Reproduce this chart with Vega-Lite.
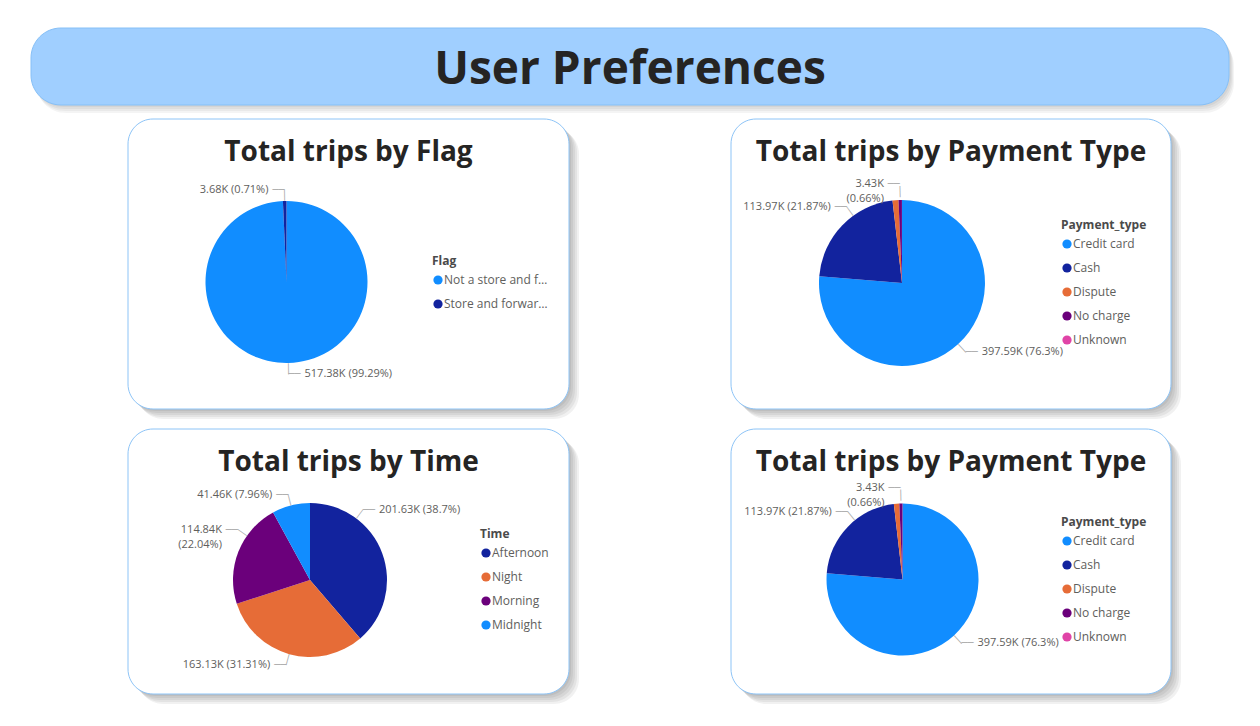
{
  "$schema": "https://vega.github.io/schema/vega-lite/v6.json",
  "background": "#ffffff",
  "padding": {"left": 30, "top": 27, "right": 0, "bottom": 0},
  "config": {
    "view": {"stroke": null},
    "font": "Open Sans",
    "legend": {
      "orient": "none",
      "symbolType": "circle",
      "symbolSize": 85,
      "labelFont": "Open Sans",
      "labelFontSize": 12,
      "labelColor": "#605E5C",
      "titleFont": "Open Sans",
      "titleFontSize": 12,
      "titleFontWeight": "bold",
      "titleColor": "#4A4A4A",
      "titlePadding": 6,
      "rowPadding": 12,
      "labelOffset": 0,
      "labelLimit": 106
    },
    "title": {"font": "Open Sans", "fontSize": 28, "fontWeight": "bold", "color": "#252423", "anchor": "middle", "offset": -48}
  },
  "datasets": {
    "flag": [
      {"Flag": "Not a store and forward trip", "Trips": 517.38, "label": "517.38K (99.29%)"},
      {"Flag": "Store and forward trip", "Trips": 3.68, "label": "3.68K (0.71%)"}
    ],
    "payment": [
      {"Payment_type": "Credit card", "Trips": 397.59, "label": "397.59K (76.3%)"},
      {"Payment_type": "Cash", "Trips": 113.97, "label": "113.97K (21.87%)"},
      {"Payment_type": "Dispute", "Trips": 6.03, "label": ""},
      {"Payment_type": "No charge", "Trips": 3.43, "label": "3.43K\n(0.66%)"},
      {"Payment_type": "Unknown", "Trips": 0.04, "label": ""}
    ],
    "time": [
      {"Time": "Afternoon", "Trips": 201.63, "label": "201.63K (38.7%)"},
      {"Time": "Night", "Trips": 163.13, "label": "163.13K (31.31%)"},
      {"Time": "Morning", "Trips": 114.84, "label": "114.84K\n(22.04%)"},
      {"Time": "Midnight", "Trips": 41.46, "label": "41.46K (7.96%)"}
    ],
    "header": [{"text": "User Preferences"}],
    "blank": [{"text": ""}]
  },
  "bounds": "flush",
  "spacing": 14,
  "resolve": {"scale": {"color": "independent", "theta": "independent", "x": "independent", "y": "independent"}, "legend": {"color": "independent"}},
  "vconcat": [
    {
      "width": 1198,
      "height": 77,
      "data": {"name": "header"},
      "layer": [
        {"mark": {"type": "rect", "fill": "#000000", "opacity": 0.045, "cornerRadius": 30, "xOffset": 2, "x2Offset": 2, "yOffset": 2, "y2Offset": 2},
         "encoding": {"x": {"datum": 0, "type": "quantitative", "scale": {"domain": [0, 1]}, "axis": null}, "x2": {"datum": 1}, "y": {"datum": 0, "type": "quantitative", "scale": {"domain": [0, 1], "reverse": true}, "axis": null}, "y2": {"datum": 1}}},
        {"mark": {"type": "rect", "fill": "#000000", "opacity": 0.045, "cornerRadius": 30, "xOffset": 3, "x2Offset": 3, "yOffset": 4, "y2Offset": 4},
         "encoding": {"x": {"datum": 0, "type": "quantitative", "scale": {"domain": [0, 1]}, "axis": null}, "x2": {"datum": 1}, "y": {"datum": 0, "type": "quantitative", "scale": {"domain": [0, 1], "reverse": true}, "axis": null}, "y2": {"datum": 1}}},
        {"mark": {"type": "rect", "fill": "#000000", "opacity": 0.045, "cornerRadius": 30, "xOffset": 4, "x2Offset": 4, "yOffset": 6, "y2Offset": 6},
         "encoding": {"x": {"datum": 0, "type": "quantitative", "scale": {"domain": [0, 1]}, "axis": null}, "x2": {"datum": 1}, "y": {"datum": 0, "type": "quantitative", "scale": {"domain": [0, 1], "reverse": true}, "axis": null}, "y2": {"datum": 1}}},
        {"mark": {"type": "rect", "fill": "#000000", "opacity": 0.045, "cornerRadius": 30, "xOffset": 5, "x2Offset": 5, "yOffset": 8, "y2Offset": 8},
         "encoding": {"x": {"datum": 0, "type": "quantitative", "scale": {"domain": [0, 1]}, "axis": null}, "x2": {"datum": 1}, "y": {"datum": 0, "type": "quantitative", "scale": {"domain": [0, 1], "reverse": true}, "axis": null}, "y2": {"datum": 1}}},
        {"mark": {"type": "rect", "fill": "#A0CFFF", "stroke": "#86C0F7", "strokeWidth": 1, "cornerRadius": 30},
         "encoding": {"x": {"datum": 0, "type": "quantitative", "scale": {"domain": [0, 1]}, "axis": null}, "x2": {"datum": 1}, "y": {"datum": 0, "type": "quantitative", "scale": {"domain": [0, 1], "reverse": true}, "axis": null}, "y2": {"datum": 1}}},
        {"mark": {"type": "text", "font": "Open Sans", "fontSize": 46, "fontWeight": "bold", "color": "#252423", "baseline": "middle", "dy": 3},
         "encoding": {"text": {"field": "text", "type": "nominal"}}}
      ]
    },
    {
      "spacing": 0,
      "bounds": "flush",
      "resolve": {"scale": {"color": "independent", "theta": "independent", "x": "independent", "y": "independent"}, "legend": {"color": "independent"}},
      "hconcat": [
        {
          "width": 97,
          "height": 2,
          "data": {"name": "blank"},
          "mark": {"type": "text"},
          "encoding": {"text": {"field": "text", "type": "nominal"}}
        },
        {
          "columns": 2,
          "spacing": {"row": 20, "column": 162},
          "bounds": "flush",
          "resolve": {"scale": {"color": "independent", "theta": "independent", "x": "independent", "y": "independent"}, "legend": {"color": "independent"}},
          "concat": [
                {
                  "width": 441,
                  "height": 290,
                  "title": {"text": "Total trips by Flag"},
                  "data": {"name": "flag"},
                  "layer": [
                    {"data": {"name": "blank"}, "mark": {"type": "rect", "fill": "#000000", "opacity": 0.055, "cornerRadius": 25, "xOffset": 2, "x2Offset": 2, "yOffset": 2, "y2Offset": 2},
                     "encoding": {"x": {"datum": 0, "type": "quantitative", "scale": {"domain": [0, 1]}, "axis": null}, "x2": {"datum": 1}, "y": {"datum": 0, "type": "quantitative", "scale": {"domain": [0, 1], "reverse": true}, "axis": null}, "y2": {"datum": 1}}},
                    {"data": {"name": "blank"}, "mark": {"type": "rect", "fill": "#000000", "opacity": 0.055, "cornerRadius": 25, "xOffset": 4, "x2Offset": 4, "yOffset": 4, "y2Offset": 4},
                     "encoding": {"x": {"datum": 0, "type": "quantitative", "scale": {"domain": [0, 1]}, "axis": null}, "x2": {"datum": 1}, "y": {"datum": 0, "type": "quantitative", "scale": {"domain": [0, 1], "reverse": true}, "axis": null}, "y2": {"datum": 1}}},
                    {"data": {"name": "blank"}, "mark": {"type": "rect", "fill": "#000000", "opacity": 0.055, "cornerRadius": 25, "xOffset": 6, "x2Offset": 6, "yOffset": 6, "y2Offset": 6},
                     "encoding": {"x": {"datum": 0, "type": "quantitative", "scale": {"domain": [0, 1]}, "axis": null}, "x2": {"datum": 1}, "y": {"datum": 0, "type": "quantitative", "scale": {"domain": [0, 1], "reverse": true}, "axis": null}, "y2": {"datum": 1}}},
                    {"data": {"name": "blank"}, "mark": {"type": "rect", "fill": "#000000", "opacity": 0.055, "cornerRadius": 25, "xOffset": 8, "x2Offset": 8, "yOffset": 8, "y2Offset": 8},
                     "encoding": {"x": {"datum": 0, "type": "quantitative", "scale": {"domain": [0, 1]}, "axis": null}, "x2": {"datum": 1}, "y": {"datum": 0, "type": "quantitative", "scale": {"domain": [0, 1], "reverse": true}, "axis": null}, "y2": {"datum": 1}}},
                    {"data": {"name": "blank"}, "mark": {"type": "rect", "fill": "#000000", "opacity": 0.055, "cornerRadius": 25, "xOffset": 10, "x2Offset": 10, "yOffset": 10, "y2Offset": 10},
                     "encoding": {"x": {"datum": 0, "type": "quantitative", "scale": {"domain": [0, 1]}, "axis": null}, "x2": {"datum": 1}, "y": {"datum": 0, "type": "quantitative", "scale": {"domain": [0, 1], "reverse": true}, "axis": null}, "y2": {"datum": 1}}},
                    {"data": {"name": "blank"}, "mark": {"type": "rect", "fill": "#ffffff", "stroke": "#8DC4F7", "strokeWidth": 1, "cornerRadius": 25},
                     "encoding": {"x": {"datum": 0, "type": "quantitative", "scale": {"domain": [0, 1]}, "axis": null}, "x2": {"datum": 1}, "y": {"datum": 0, "type": "quantitative", "scale": {"domain": [0, 1], "reverse": true}, "axis": null}, "y2": {"datum": 1}}},
                    {
                      "mark": {"type": "arc", "radius": 81},
                      "encoding": {
                        "x": {"datum": 0.3594, "type": "quantitative", "scale": {"domain": [0, 1]}, "axis": null},
                        "y": {"datum": 0.5621, "type": "quantitative", "scale": {"domain": [0, 1], "reverse": true}, "axis": null},
                        "theta": {"field": "Trips", "type": "quantitative", "stack": true},
                        "order": {"field": "Trips", "type": "quantitative", "sort": "descending"},
                        "color": {"field": "Flag", "type": "nominal",
                          "scale": {"domain": ["Not a store and forward trip", "Store and forward trip"], "range": ["#118DFF", "#12239E"]},
                          "legend": {"title": "Flag", "legendX": 304, "legendY": 137}}
                      }
                    },
                    {
                      "mark": {"type": "text", "radius": 86.5, "text": "│", "font": "DejaVu Sans", "fontSize": 9.5, "color": "#A8A8A8", "baseline": "middle", "align": "center",
                        "angle": {"expr": "(datum.Trips_start + datum.Trips_end) * 180 / 521.06"}},
                      "encoding": {
                        "x": {"datum": 0.3594, "type": "quantitative", "scale": {"domain": [0, 1]}, "axis": null},
                        "y": {"datum": 0.5621, "type": "quantitative", "scale": {"domain": [0, 1], "reverse": true}, "axis": null},
                        "theta": {"field": "Trips", "type": "quantitative", "stack": true},
                        "order": {"field": "Trips", "type": "quantitative", "sort": "descending"},
                        "detail": {"field": "Flag", "type": "nominal"},
                        "opacity": {"condition": {"test": "datum.label == ''", "value": 0}, "value": 1}
                      }
                    },
                    {
                      "mark": {"type": "text", "radius": 92, "text": "──", "font": "DejaVu Sans", "fontSize": 10, "color": "#A8A8A8", "baseline": "middle",
                        "align": {"expr": "datum.Trips_start + datum.Trips_end > 521.06 ? 'right' : 'left'"}},
                      "encoding": {
                        "x": {"datum": 0.3594, "type": "quantitative", "scale": {"domain": [0, 1]}, "axis": null},
                        "y": {"datum": 0.5621, "type": "quantitative", "scale": {"domain": [0, 1], "reverse": true}, "axis": null},
                        "theta": {"field": "Trips", "type": "quantitative", "stack": true},
                        "order": {"field": "Trips", "type": "quantitative", "sort": "descending"},
                        "detail": {"field": "Flag", "type": "nominal"},
                        "opacity": {"condition": {"test": "datum.label == ''", "value": 0}, "value": 1}
                      }
                    },
                    {
                      "mark": {"type": "text", "radius": 92, "fontSize": 11, "lineHeight": 15, "color": "#605E5C", "baseline": "middle", "lineBreak": "\n",
                        "align": {"expr": "datum.Trips_start + datum.Trips_end > 521.06 ? 'right' : 'left'"},
                        "dx": {"expr": "datum.Trips_start + datum.Trips_end > 521.06 ? -16 : 16"}},
                      "encoding": {
                        "x": {"datum": 0.3594, "type": "quantitative", "scale": {"domain": [0, 1]}, "axis": null},
                        "y": {"datum": 0.5621, "type": "quantitative", "scale": {"domain": [0, 1], "reverse": true}, "axis": null},
                        "theta": {"field": "Trips", "type": "quantitative", "stack": true},
                        "order": {"field": "Trips", "type": "quantitative", "sort": "descending"},
                        "detail": {"field": "Flag", "type": "nominal"},
                        "text": {"field": "label", "type": "nominal"}
                      }
                    }
                  ]
                },
                {
                  "width": 440,
                  "height": 290,
                  "title": {"text": "Total trips by Payment Type"},
                  "data": {"name": "payment"},
                  "layer": [
                    {"data": {"name": "blank"}, "mark": {"type": "rect", "fill": "#000000", "opacity": 0.055, "cornerRadius": 25, "xOffset": 2, "x2Offset": 2, "yOffset": 2, "y2Offset": 2},
                     "encoding": {"x": {"datum": 0, "type": "quantitative", "scale": {"domain": [0, 1]}, "axis": null}, "x2": {"datum": 1}, "y": {"datum": 0, "type": "quantitative", "scale": {"domain": [0, 1], "reverse": true}, "axis": null}, "y2": {"datum": 1}}},
                    {"data": {"name": "blank"}, "mark": {"type": "rect", "fill": "#000000", "opacity": 0.055, "cornerRadius": 25, "xOffset": 4, "x2Offset": 4, "yOffset": 4, "y2Offset": 4},
                     "encoding": {"x": {"datum": 0, "type": "quantitative", "scale": {"domain": [0, 1]}, "axis": null}, "x2": {"datum": 1}, "y": {"datum": 0, "type": "quantitative", "scale": {"domain": [0, 1], "reverse": true}, "axis": null}, "y2": {"datum": 1}}},
                    {"data": {"name": "blank"}, "mark": {"type": "rect", "fill": "#000000", "opacity": 0.055, "cornerRadius": 25, "xOffset": 6, "x2Offset": 6, "yOffset": 6, "y2Offset": 6},
                     "encoding": {"x": {"datum": 0, "type": "quantitative", "scale": {"domain": [0, 1]}, "axis": null}, "x2": {"datum": 1}, "y": {"datum": 0, "type": "quantitative", "scale": {"domain": [0, 1], "reverse": true}, "axis": null}, "y2": {"datum": 1}}},
                    {"data": {"name": "blank"}, "mark": {"type": "rect", "fill": "#000000", "opacity": 0.055, "cornerRadius": 25, "xOffset": 8, "x2Offset": 8, "yOffset": 8, "y2Offset": 8},
                     "encoding": {"x": {"datum": 0, "type": "quantitative", "scale": {"domain": [0, 1]}, "axis": null}, "x2": {"datum": 1}, "y": {"datum": 0, "type": "quantitative", "scale": {"domain": [0, 1], "reverse": true}, "axis": null}, "y2": {"datum": 1}}},
                    {"data": {"name": "blank"}, "mark": {"type": "rect", "fill": "#000000", "opacity": 0.055, "cornerRadius": 25, "xOffset": 10, "x2Offset": 10, "yOffset": 10, "y2Offset": 10},
                     "encoding": {"x": {"datum": 0, "type": "quantitative", "scale": {"domain": [0, 1]}, "axis": null}, "x2": {"datum": 1}, "y": {"datum": 0, "type": "quantitative", "scale": {"domain": [0, 1], "reverse": true}, "axis": null}, "y2": {"datum": 1}}},
                    {"data": {"name": "blank"}, "mark": {"type": "rect", "fill": "#ffffff", "stroke": "#8DC4F7", "strokeWidth": 1, "cornerRadius": 25},
                     "encoding": {"x": {"datum": 0, "type": "quantitative", "scale": {"domain": [0, 1]}, "axis": null}, "x2": {"datum": 1}, "y": {"datum": 0, "type": "quantitative", "scale": {"domain": [0, 1], "reverse": true}, "axis": null}, "y2": {"datum": 1}}},
                    {
                      "mark": {"type": "arc", "radius": 83},
                      "encoding": {
                        "x": {"datum": 0.3886, "type": "quantitative", "scale": {"domain": [0, 1]}, "axis": null},
                        "y": {"datum": 0.5655, "type": "quantitative", "scale": {"domain": [0, 1], "reverse": true}, "axis": null},
                        "theta": {"field": "Trips", "type": "quantitative", "stack": true},
                        "order": {"field": "Trips", "type": "quantitative", "sort": "descending"},
                        "color": {"field": "Payment_type", "type": "nominal",
                          "scale": {"domain": ["Credit card", "Cash", "Dispute", "No charge", "Unknown"], "range": ["#118DFF", "#12239E", "#E66C37", "#6B007B", "#E044A7"]},
                          "legend": {"title": "Payment_type", "legendX": 330, "legendY": 101}}
                      }
                    },
                    {
                      "mark": {"type": "text", "radius": 88.5, "text": "│", "font": "DejaVu Sans", "fontSize": 9.5, "color": "#A8A8A8", "baseline": "middle", "align": "center",
                        "thetaOffset": {"expr": "datum.Payment_type == 'Cash' ? 0.175 : 0"},
                        "radiusOffset": {"expr": "datum.Payment_type == 'No charge' ? 2.5 : 0"},
                        "angle": {"expr": "(datum.Trips_start + datum.Trips_end) * 180 / 521.06 + (datum.Payment_type == 'Cash' ? 10 : 0)"}},
                      "encoding": {
                        "x": {"datum": 0.3886, "type": "quantitative", "scale": {"domain": [0, 1]}, "axis": null},
                        "y": {"datum": 0.5655, "type": "quantitative", "scale": {"domain": [0, 1], "reverse": true}, "axis": null},
                        "theta": {"field": "Trips", "type": "quantitative", "stack": true},
                        "order": {"field": "Trips", "type": "quantitative", "sort": "descending"},
                        "detail": {"field": "Payment_type", "type": "nominal"},
                        "opacity": {"condition": {"test": "datum.label == ''", "value": 0}, "value": 1}
                      }
                    },
                    {
                      "mark": {"type": "text", "radius": 94, "text": "──", "font": "DejaVu Sans", "fontSize": 10, "color": "#A8A8A8", "baseline": "middle",
                        "thetaOffset": {"expr": "datum.Payment_type == 'Cash' ? 0.175 : 0"},
                        "radiusOffset": {"expr": "datum.Payment_type == 'No charge' ? 5 : 0"},
                        "align": {"expr": "datum.Trips_start + datum.Trips_end > 521.06 ? 'right' : 'left'"}},
                      "encoding": {
                        "x": {"datum": 0.3886, "type": "quantitative", "scale": {"domain": [0, 1]}, "axis": null},
                        "y": {"datum": 0.5655, "type": "quantitative", "scale": {"domain": [0, 1], "reverse": true}, "axis": null},
                        "theta": {"field": "Trips", "type": "quantitative", "stack": true},
                        "order": {"field": "Trips", "type": "quantitative", "sort": "descending"},
                        "detail": {"field": "Payment_type", "type": "nominal"},
                        "opacity": {"condition": {"test": "datum.label == ''", "value": 0}, "value": 1}
                      }
                    },
                    {
                      "mark": {"type": "text", "radius": 94, "fontSize": 11, "lineHeight": 15, "color": "#605E5C", "baseline": "middle", "lineBreak": "\n",
                        "thetaOffset": {"expr": "datum.Payment_type == 'Cash' ? 0.175 : 0"},
                        "radiusOffset": {"expr": "datum.Payment_type == 'No charge' ? 5 : 0"},
                        "align": {"expr": "datum.Trips_start + datum.Trips_end > 521.06 ? 'right' : 'left'"},
                        "dx": {"expr": "datum.Trips_start + datum.Trips_end > 521.06 ? -16 : 16"}},
                      "encoding": {
                        "x": {"datum": 0.3886, "type": "quantitative", "scale": {"domain": [0, 1]}, "axis": null},
                        "y": {"datum": 0.5655, "type": "quantitative", "scale": {"domain": [0, 1], "reverse": true}, "axis": null},
                        "theta": {"field": "Trips", "type": "quantitative", "stack": true},
                        "order": {"field": "Trips", "type": "quantitative", "sort": "descending"},
                        "detail": {"field": "Payment_type", "type": "nominal"},
                        "text": {"field": "label", "type": "nominal"}
                      }
                    }
                  ]
                },
                {
                  "width": 441,
                  "height": 265,
                  "title": {"text": "Total trips by Time"},
                  "data": {"name": "time"},
                  "layer": [
                    {"data": {"name": "blank"}, "mark": {"type": "rect", "fill": "#000000", "opacity": 0.055, "cornerRadius": 25, "xOffset": 2, "x2Offset": 2, "yOffset": 2, "y2Offset": 2},
                     "encoding": {"x": {"datum": 0, "type": "quantitative", "scale": {"domain": [0, 1]}, "axis": null}, "x2": {"datum": 1}, "y": {"datum": 0, "type": "quantitative", "scale": {"domain": [0, 1], "reverse": true}, "axis": null}, "y2": {"datum": 1}}},
                    {"data": {"name": "blank"}, "mark": {"type": "rect", "fill": "#000000", "opacity": 0.055, "cornerRadius": 25, "xOffset": 4, "x2Offset": 4, "yOffset": 4, "y2Offset": 4},
                     "encoding": {"x": {"datum": 0, "type": "quantitative", "scale": {"domain": [0, 1]}, "axis": null}, "x2": {"datum": 1}, "y": {"datum": 0, "type": "quantitative", "scale": {"domain": [0, 1], "reverse": true}, "axis": null}, "y2": {"datum": 1}}},
                    {"data": {"name": "blank"}, "mark": {"type": "rect", "fill": "#000000", "opacity": 0.055, "cornerRadius": 25, "xOffset": 6, "x2Offset": 6, "yOffset": 6, "y2Offset": 6},
                     "encoding": {"x": {"datum": 0, "type": "quantitative", "scale": {"domain": [0, 1]}, "axis": null}, "x2": {"datum": 1}, "y": {"datum": 0, "type": "quantitative", "scale": {"domain": [0, 1], "reverse": true}, "axis": null}, "y2": {"datum": 1}}},
                    {"data": {"name": "blank"}, "mark": {"type": "rect", "fill": "#000000", "opacity": 0.055, "cornerRadius": 25, "xOffset": 8, "x2Offset": 8, "yOffset": 8, "y2Offset": 8},
                     "encoding": {"x": {"datum": 0, "type": "quantitative", "scale": {"domain": [0, 1]}, "axis": null}, "x2": {"datum": 1}, "y": {"datum": 0, "type": "quantitative", "scale": {"domain": [0, 1], "reverse": true}, "axis": null}, "y2": {"datum": 1}}},
                    {"data": {"name": "blank"}, "mark": {"type": "rect", "fill": "#000000", "opacity": 0.055, "cornerRadius": 25, "xOffset": 10, "x2Offset": 10, "yOffset": 10, "y2Offset": 10},
                     "encoding": {"x": {"datum": 0, "type": "quantitative", "scale": {"domain": [0, 1]}, "axis": null}, "x2": {"datum": 1}, "y": {"datum": 0, "type": "quantitative", "scale": {"domain": [0, 1], "reverse": true}, "axis": null}, "y2": {"datum": 1}}},
                    {"data": {"name": "blank"}, "mark": {"type": "rect", "fill": "#ffffff", "stroke": "#8DC4F7", "strokeWidth": 1, "cornerRadius": 25},
                     "encoding": {"x": {"datum": 0, "type": "quantitative", "scale": {"domain": [0, 1]}, "axis": null}, "x2": {"datum": 1}, "y": {"datum": 0, "type": "quantitative", "scale": {"domain": [0, 1], "reverse": true}, "axis": null}, "y2": {"datum": 1}}},
                    {
                      "mark": {"type": "arc", "radius": 77},
                      "encoding": {
                        "x": {"datum": 0.4127, "type": "quantitative", "scale": {"domain": [0, 1]}, "axis": null},
                        "y": {"datum": 0.5698, "type": "quantitative", "scale": {"domain": [0, 1], "reverse": true}, "axis": null},
                        "theta": {"field": "Trips", "type": "quantitative", "stack": true},
                        "order": {"field": "Trips", "type": "quantitative", "sort": "descending"},
                        "color": {"field": "Time", "type": "nominal",
                          "scale": {"domain": ["Afternoon", "Night", "Morning", "Midnight"], "range": ["#12239E", "#E66C37", "#6B007B", "#118DFF"]},
                          "legend": {"title": "Time", "legendX": 352, "legendY": 100}}
                      }
                    },
                    {
                      "mark": {"type": "text", "radius": 82.5, "text": "│", "font": "DejaVu Sans", "fontSize": 9.5, "color": "#A8A8A8", "baseline": "middle", "align": "center",
                        "thetaOffset": {"expr": "datum.Time == 'Afternoon' ? -0.571 : datum.Time == 'Morning' ? 0.232 : 0"},
                        "angle": {"expr": "(datum.Trips_start + datum.Trips_end) * 180 / 521.06 + (datum.Time == 'Afternoon' ? -32.7 : datum.Time == 'Morning' ? 13.3 : 0)"}},
                      "encoding": {
                        "x": {"datum": 0.4127, "type": "quantitative", "scale": {"domain": [0, 1]}, "axis": null},
                        "y": {"datum": 0.5698, "type": "quantitative", "scale": {"domain": [0, 1], "reverse": true}, "axis": null},
                        "theta": {"field": "Trips", "type": "quantitative", "stack": true},
                        "order": {"field": "Trips", "type": "quantitative", "sort": "descending"},
                        "detail": {"field": "Time", "type": "nominal"},
                        "opacity": {"condition": {"test": "datum.label == ''", "value": 0}, "value": 1}
                      }
                    },
                    {
                      "mark": {"type": "text", "radius": 88, "text": "──", "font": "DejaVu Sans", "fontSize": 10, "color": "#A8A8A8", "baseline": "middle",
                        "thetaOffset": {"expr": "datum.Time == 'Afternoon' ? -0.571 : datum.Time == 'Morning' ? 0.232 : 0"},
                        "align": {"expr": "datum.Trips_start + datum.Trips_end > 521.06 ? 'right' : 'left'"}},
                      "encoding": {
                        "x": {"datum": 0.4127, "type": "quantitative", "scale": {"domain": [0, 1]}, "axis": null},
                        "y": {"datum": 0.5698, "type": "quantitative", "scale": {"domain": [0, 1], "reverse": true}, "axis": null},
                        "theta": {"field": "Trips", "type": "quantitative", "stack": true},
                        "order": {"field": "Trips", "type": "quantitative", "sort": "descending"},
                        "detail": {"field": "Time", "type": "nominal"},
                        "opacity": {"condition": {"test": "datum.label == ''", "value": 0}, "value": 1}
                      }
                    },
                    {
                      "mark": {"type": "text", "radius": 88, "fontSize": 11, "lineHeight": 15, "color": "#605E5C", "baseline": "middle", "lineBreak": "\n",
                        "thetaOffset": {"expr": "datum.Time == 'Afternoon' ? -0.571 : datum.Time == 'Morning' ? 0.232 : 0"},
                        "align": {"expr": "datum.Trips_start + datum.Trips_end > 521.06 ? 'right' : 'left'"},
                        "dx": {"expr": "datum.Trips_start + datum.Trips_end > 521.06 ? -16 : 16"}},
                      "encoding": {
                        "x": {"datum": 0.4127, "type": "quantitative", "scale": {"domain": [0, 1]}, "axis": null},
                        "y": {"datum": 0.5698, "type": "quantitative", "scale": {"domain": [0, 1], "reverse": true}, "axis": null},
                        "theta": {"field": "Trips", "type": "quantitative", "stack": true},
                        "order": {"field": "Trips", "type": "quantitative", "sort": "descending"},
                        "detail": {"field": "Time", "type": "nominal"},
                        "text": {"field": "label", "type": "nominal"}
                      }
                    }
                  ]
                },
                {
                  "width": 440,
                  "height": 265,
                  "title": {"text": "Total trips by Payment Type"},
                  "data": {"name": "payment"},
                  "layer": [
                    {"data": {"name": "blank"}, "mark": {"type": "rect", "fill": "#000000", "opacity": 0.055, "cornerRadius": 25, "xOffset": 2, "x2Offset": 2, "yOffset": 2, "y2Offset": 2},
                     "encoding": {"x": {"datum": 0, "type": "quantitative", "scale": {"domain": [0, 1]}, "axis": null}, "x2": {"datum": 1}, "y": {"datum": 0, "type": "quantitative", "scale": {"domain": [0, 1], "reverse": true}, "axis": null}, "y2": {"datum": 1}}},
                    {"data": {"name": "blank"}, "mark": {"type": "rect", "fill": "#000000", "opacity": 0.055, "cornerRadius": 25, "xOffset": 4, "x2Offset": 4, "yOffset": 4, "y2Offset": 4},
                     "encoding": {"x": {"datum": 0, "type": "quantitative", "scale": {"domain": [0, 1]}, "axis": null}, "x2": {"datum": 1}, "y": {"datum": 0, "type": "quantitative", "scale": {"domain": [0, 1], "reverse": true}, "axis": null}, "y2": {"datum": 1}}},
                    {"data": {"name": "blank"}, "mark": {"type": "rect", "fill": "#000000", "opacity": 0.055, "cornerRadius": 25, "xOffset": 6, "x2Offset": 6, "yOffset": 6, "y2Offset": 6},
                     "encoding": {"x": {"datum": 0, "type": "quantitative", "scale": {"domain": [0, 1]}, "axis": null}, "x2": {"datum": 1}, "y": {"datum": 0, "type": "quantitative", "scale": {"domain": [0, 1], "reverse": true}, "axis": null}, "y2": {"datum": 1}}},
                    {"data": {"name": "blank"}, "mark": {"type": "rect", "fill": "#000000", "opacity": 0.055, "cornerRadius": 25, "xOffset": 8, "x2Offset": 8, "yOffset": 8, "y2Offset": 8},
                     "encoding": {"x": {"datum": 0, "type": "quantitative", "scale": {"domain": [0, 1]}, "axis": null}, "x2": {"datum": 1}, "y": {"datum": 0, "type": "quantitative", "scale": {"domain": [0, 1], "reverse": true}, "axis": null}, "y2": {"datum": 1}}},
                    {"data": {"name": "blank"}, "mark": {"type": "rect", "fill": "#000000", "opacity": 0.055, "cornerRadius": 25, "xOffset": 10, "x2Offset": 10, "yOffset": 10, "y2Offset": 10},
                     "encoding": {"x": {"datum": 0, "type": "quantitative", "scale": {"domain": [0, 1]}, "axis": null}, "x2": {"datum": 1}, "y": {"datum": 0, "type": "quantitative", "scale": {"domain": [0, 1], "reverse": true}, "axis": null}, "y2": {"datum": 1}}},
                    {"data": {"name": "blank"}, "mark": {"type": "rect", "fill": "#ffffff", "stroke": "#8DC4F7", "strokeWidth": 1, "cornerRadius": 25},
                     "encoding": {"x": {"datum": 0, "type": "quantitative", "scale": {"domain": [0, 1]}, "axis": null}, "x2": {"datum": 1}, "y": {"datum": 0, "type": "quantitative", "scale": {"domain": [0, 1], "reverse": true}, "axis": null}, "y2": {"datum": 1}}},
                    {
                      "mark": {"type": "arc", "radius": 76},
                      "encoding": {
                        "x": {"datum": 0.3898, "type": "quantitative", "scale": {"domain": [0, 1]}, "axis": null},
                        "y": {"datum": 0.5679, "type": "quantitative", "scale": {"domain": [0, 1], "reverse": true}, "axis": null},
                        "theta": {"field": "Trips", "type": "quantitative", "stack": true},
                        "order": {"field": "Trips", "type": "quantitative", "sort": "descending"},
                        "color": {"field": "Payment_type", "type": "nominal",
                          "scale": {"domain": ["Credit card", "Cash", "Dispute", "No charge", "Unknown"], "range": ["#118DFF", "#12239E", "#E66C37", "#6B007B", "#E044A7"]},
                          "legend": {"title": "Payment_type", "legendX": 330, "legendY": 88}}
                      }
                    },
                    {
                      "mark": {"type": "text", "radius": 81.5, "text": "│", "font": "DejaVu Sans", "fontSize": 9.5, "color": "#A8A8A8", "baseline": "middle", "align": "center",
                        "thetaOffset": {"expr": "datum.Payment_type == 'Cash' ? 0.122 : 0"},
                        "radiusOffset": {"expr": "datum.Payment_type == 'No charge' ? 2.5 : 0"},
                        "angle": {"expr": "(datum.Trips_start + datum.Trips_end) * 180 / 521.06 + (datum.Payment_type == 'Cash' ? 7 : 0)"}},
                      "encoding": {
                        "x": {"datum": 0.3898, "type": "quantitative", "scale": {"domain": [0, 1]}, "axis": null},
                        "y": {"datum": 0.5679, "type": "quantitative", "scale": {"domain": [0, 1], "reverse": true}, "axis": null},
                        "theta": {"field": "Trips", "type": "quantitative", "stack": true},
                        "order": {"field": "Trips", "type": "quantitative", "sort": "descending"},
                        "detail": {"field": "Payment_type", "type": "nominal"},
                        "opacity": {"condition": {"test": "datum.label == ''", "value": 0}, "value": 1}
                      }
                    },
                    {
                      "mark": {"type": "text", "radius": 87, "text": "──", "font": "DejaVu Sans", "fontSize": 10, "color": "#A8A8A8", "baseline": "middle",
                        "thetaOffset": {"expr": "datum.Payment_type == 'Cash' ? 0.122 : 0"},
                        "radiusOffset": {"expr": "datum.Payment_type == 'No charge' ? 5 : 0"},
                        "align": {"expr": "datum.Trips_start + datum.Trips_end > 521.06 ? 'right' : 'left'"}},
                      "encoding": {
                        "x": {"datum": 0.3898, "type": "quantitative", "scale": {"domain": [0, 1]}, "axis": null},
                        "y": {"datum": 0.5679, "type": "quantitative", "scale": {"domain": [0, 1], "reverse": true}, "axis": null},
                        "theta": {"field": "Trips", "type": "quantitative", "stack": true},
                        "order": {"field": "Trips", "type": "quantitative", "sort": "descending"},
                        "detail": {"field": "Payment_type", "type": "nominal"},
                        "opacity": {"condition": {"test": "datum.label == ''", "value": 0}, "value": 1}
                      }
                    },
                    {
                      "mark": {"type": "text", "radius": 87, "fontSize": 11, "lineHeight": 15, "color": "#605E5C", "baseline": "middle", "lineBreak": "\n",
                        "thetaOffset": {"expr": "datum.Payment_type == 'Cash' ? 0.122 : 0"},
                        "radiusOffset": {"expr": "datum.Payment_type == 'No charge' ? 5 : 0"},
                        "align": {"expr": "datum.Trips_start + datum.Trips_end > 521.06 ? 'right' : 'left'"},
                        "dx": {"expr": "datum.Trips_start + datum.Trips_end > 521.06 ? -16 : 16"}},
                      "encoding": {
                        "x": {"datum": 0.3898, "type": "quantitative", "scale": {"domain": [0, 1]}, "axis": null},
                        "y": {"datum": 0.5679, "type": "quantitative", "scale": {"domain": [0, 1], "reverse": true}, "axis": null},
                        "theta": {"field": "Trips", "type": "quantitative", "stack": true},
                        "order": {"field": "Trips", "type": "quantitative", "sort": "descending"},
                        "detail": {"field": "Payment_type", "type": "nominal"},
                        "text": {"field": "label", "type": "nominal"}
                      }
                    }
                  ]
                }
          ]
        }
      ]
    }
  ]
}
